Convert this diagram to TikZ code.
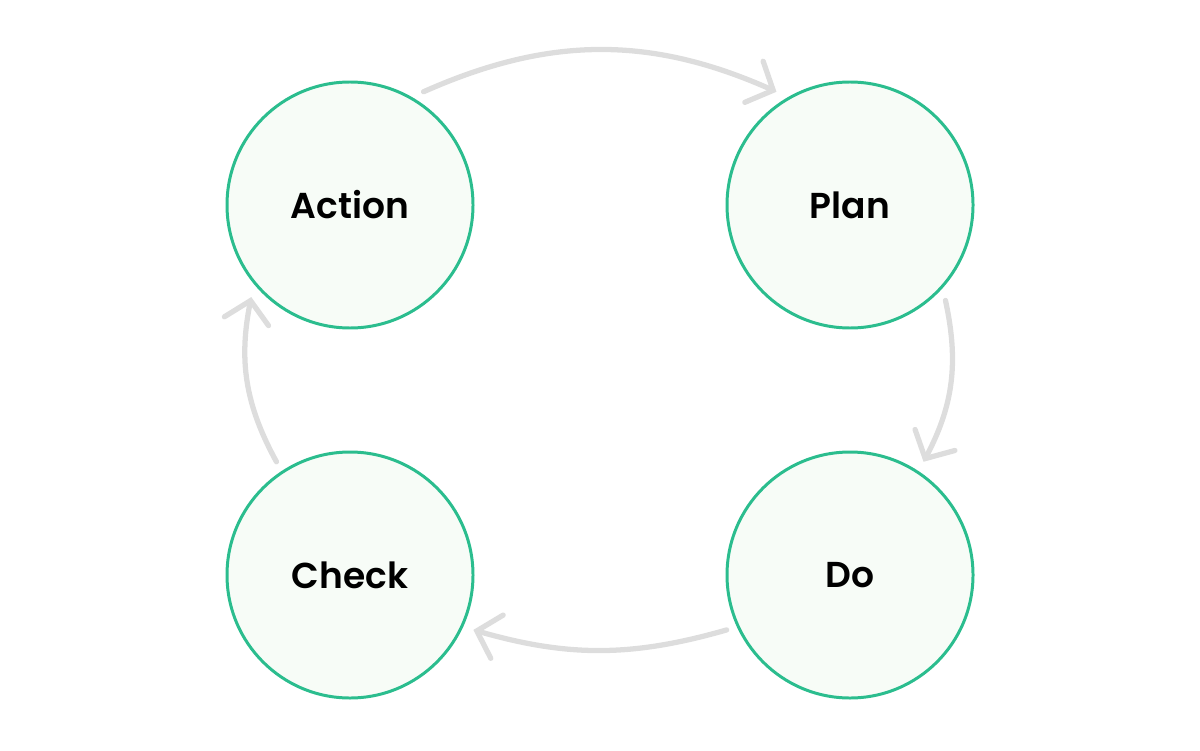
\documentclass[tikz,border=0pt]{standalone}
\usepackage{fontspec}
\setmainfont{Poppins SemiBold}
\usepackage{tikz}
\usetikzlibrary{positioning,arrows.meta}

\definecolor{phasegreen}{HTML}{2BBD8E}
\definecolor{phasefill}{HTML}{F7FCF7}
\definecolor{loopgray}{HTML}{DDDDDD}

\tikzset{
  phase/.style={draw=phasegreen, line width=1.7pt, fill=phasefill, circle,
    minimum size=4.92cm, inner sep=0pt, outer sep=0.24cm, font=\fontsize{20.5}{24}\selectfont},
  loop/.style={draw=loopgray, line width=3pt, line cap=round,
    -{Straight Barb[length=0.42cm, width=0.9cm, line cap=round]}}
}

\begin{document}
\begin{tikzpicture}
\useasboundingbox (0,0) rectangle (24,15);
\node (act) [phase] at (7,10.9) {Action};
\node (plan) [phase, right=4.6cm of act] {Plan};
\node (do) [phase, below=2cm of plan] {Do};
\node (check) [phase, below=2cm of act] {Check};
\draw[loop] (act.57) to[bend left=24] (plan.123);
\draw[loop] (plan.-45) to[bend left=20] (do.57);
\draw[loop] (do.204) to[bend left=16] (check.336);
\draw[loop] (check.123) to[bend left=20] (act.223);
\end{tikzpicture}
\end{document}
